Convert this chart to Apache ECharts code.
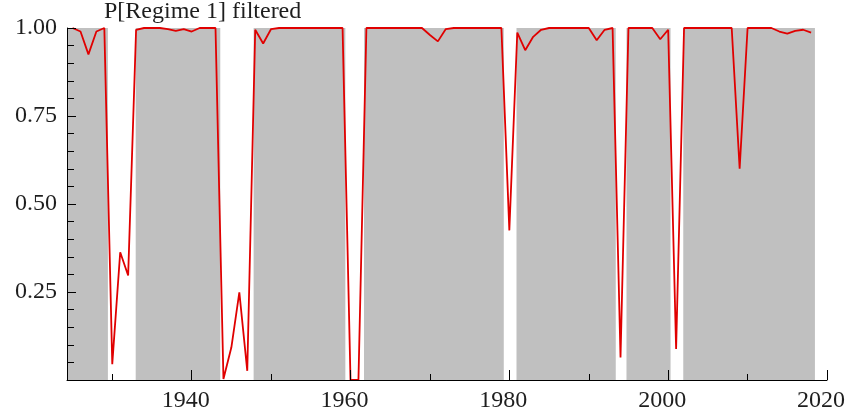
<!DOCTYPE html>
<html><head><meta charset="utf-8">
<script src="https://cdn.jsdelivr.net/npm/echarts@6/dist/echarts.min.js"></script>
<style>html,body{margin:0;padding:0;background:#fff}#c{width:853px;height:414px}</style>
</head><body><div id="c"></div>
<script>
const years = [1925,1926,1927,1928,1929,1930,1931,1932,1933,1934,1935,1936,1937,1938,1939,1940,1941,1942,1943,1944,1945,1946,1947,1948,1949,1950,1951,1952,1953,1954,1955,1956,1957,1958,1959,1960,1961,1962,1963,1964,1965,1966,1967,1968,1969,1970,1971,1972,1973,1974,1975,1976,1977,1978,1979,1980,1981,1982,1983,1984,1985,1986,1987,1988,1989,1990,1991,1992,1993,1994,1995,1996,1997,1998,1999,2000,2001,2002,2003,2004,2005,2006,2007,2008,2009,2010,2011,2012,2013,2014,2015,2016,2017,2018];
const probRegime1 = [1.0,0.99,0.925,0.99,1.0,0.045,0.363,0.297,0.995,1.0,1.0,1.0,0.997,0.992,0.997,0.99,1.0,1.0,1.0,0.003,0.093,0.249,0.026,0.995,0.956,0.997,1.0,1.0,1.0,1.0,1.0,1.0,1.0,1.0,1.0,0.0,0.0,1.0,1.0,1.0,1.0,1.0,1.0,1.0,1.0,0.98,0.962,0.997,1.0,1.0,1.0,1.0,1.0,1.0,1.0,0.425,0.987,0.937,0.975,0.995,1.0,1.0,1.0,1.0,1.0,1.0,0.965,0.995,1.0,0.064,1.0,1.0,1.0,1.0,0.968,0.995,0.088,1.0,1.0,1.0,1.0,1.0,1.0,1.0,0.60,1.0,1.0,1.0,1.0,0.99,0.984,0.992,0.995,0.987];
const regime1Start = [1924.3,1932.95,1947.8,1961.7,1980.9,1994.75,2001.9];
const regime1End   = [1929.45,1943.6,1959.35,1979.3,1993.4,2000.3,2018.48];
const xMajorTicks = [1940,1960,1980,2000,2020];
const xMinorTicks = [1930,1950,1970,1990,2010];
const yTicks = [0.25,0.5,0.75,1.0];
const titleText = 'P[Regime 1] filtered';

const font = 'Liberation Serif';
const chart = echarts.init(document.getElementById('c'), null, {renderer:'canvas'});
const lineData = years.map((y,i)=>[y, probRegime1[i]]);
const areas = regime1Start.map((s,i)=>[{xAxis:s},{xAxis:regime1End[i]}]);
chart.setOption({
  animation:false,
  backgroundColor:'#ffffff',
  title:{text:titleText,left:104,top:0,padding:0,textStyle:{fontFamily:font,fontSize:24,fontWeight:'normal',color:'#1e1e1e'}},
  grid:{left:67,right:26,top:28,bottom:34},
  xAxis:[{
    type:'value',min:1924.3,max:2020,z:10,
    axisLine:{show:true,lineStyle:{color:'#000',width:1}},
    axisTick:{show:true,inside:true,length:10,customValues:xMajorTicks,lineStyle:{color:'#000'}},
    axisLabel:{customValues:xMajorTicks,margin:9,padding:[0,12,0,0],fontFamily:font,fontSize:24,color:'#1e1e1e',formatter:v=>String(v)},
    splitLine:{show:false}
  },{
    type:'value',min:1924.3,max:2020,position:'bottom',z:10,
    axisLine:{show:false},
    axisTick:{show:true,inside:true,length:6,customValues:xMinorTicks,lineStyle:{color:'#000'}},
    axisLabel:{show:false},
    splitLine:{show:false}
  }],
  yAxis:{
    type:'value',min:0,max:1,interval:0.25,z:10,
    axisLine:{show:true,lineStyle:{color:'#000',width:1}},
    axisTick:{show:true,inside:true,length:9,lineStyle:{color:'#000'}},
    minorTick:{show:true,splitNumber:5,length:7,lineStyle:{color:'#000'}},
    axisLabel:{margin:10,fontFamily:font,fontSize:24,color:'#1e1e1e',formatter:v=> yTicks.includes(v)? v.toFixed(2):''},
    splitLine:{show:false}
  },
  series:[{
    type:'line',data:lineData,xAxisIndex:0,showSymbol:false,symbol:'none',clip:false,
    lineStyle:{color:'#e00000',width:1.8},
    markArea:{silent:true,itemStyle:{color:'#c0c0c0',opacity:1},data:areas},
    z:2
  }]
});
</script></body></html>
